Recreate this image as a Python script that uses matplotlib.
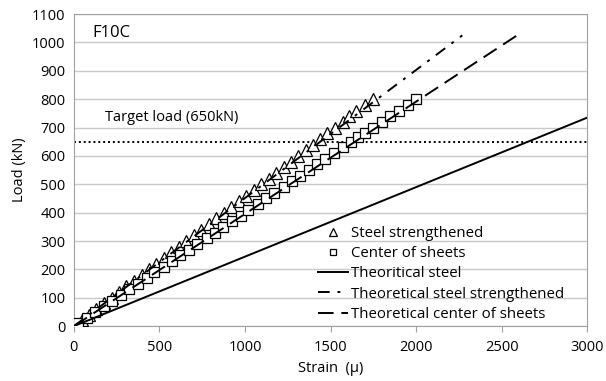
import matplotlib
matplotlib.use("Agg")
import matplotlib.pyplot as plt

# Measured data: steel strengthened (triangles)
tri_strain = [0, 45, 90, 130, 175, 220, 265, 305, 350, 395, 440, 480, 525, 570, 615, 655,
              700, 745, 790, 830, 875, 920, 965, 1005, 1050, 1095, 1140, 1180, 1225, 1270,
              1310, 1355, 1400, 1440, 1480, 1525, 1570, 1610, 1650, 1700, 1750]
tri_load = [0, 20, 40, 60, 80, 100, 120, 140, 160, 180, 200, 220, 240, 260, 280, 300,
            320, 340, 360, 380, 400, 420, 440, 460, 480, 500, 520, 540, 560, 580,
            600, 620, 640, 660, 680, 700, 720, 740, 760, 780, 800]

# Measured data: center of sheets (squares)
sq_strain = [25, 75, 125, 175, 225, 275, 320, 375, 425, 470, 525, 575, 620, 675, 720, 775,
             825, 870, 925, 975, 1020, 1075, 1125, 1170, 1225, 1275, 1320, 1375, 1420, 1470,
             1520, 1570, 1620, 1660, 1700, 1750, 1800, 1850, 1900, 1950, 2000]
sq_load = [10, 30, 50, 70, 90, 110, 130, 150, 170, 190, 210, 230, 250, 270, 290, 310,
           330, 350, 370, 390, 410, 430, 450, 470, 490, 510, 530, 550, 570, 590,
           610, 630, 650, 665, 680, 700, 720, 740, 760, 780, 800]

# Theoretical lines (end points)
th_steel_x = [0, 3000]
th_steel_y = [0, 735]
th_str_x = [0, 2270]
th_str_y = [0, 1025]
th_center_x = [0, 2590]
th_center_y = [0, 1025]

target_load = 650

plt.rcParams['font.family'] = ['Open Sans', 'DejaVu Sans']

fig = plt.figure(figsize=(6.06, 3.81), dpi=100)
ax = fig.add_axes([0.122, 0.144, 0.847, 0.819])

ax.set_xlim(0, 3000)
ax.set_ylim(0, 1100)
ax.set_xticks(range(0, 3001, 500))
ax.set_yticks(range(0, 1101, 100))
ax.yaxis.grid(True, color='#c8c8c8', linewidth=1.0)
ax.set_axisbelow(True)

ax.plot(tri_strain, tri_load, linestyle='none', marker='^', markersize=8,
        markerfacecolor='white', markeredgecolor='black', markeredgewidth=0.9,
        label='Steel strengthened', zorder=3)
ax.plot(sq_strain, sq_load, linestyle='none', marker='s', markersize=7,
        markerfacecolor='white', markeredgecolor='black', markeredgewidth=0.9,
        label='Center of sheets', zorder=3)
ax.plot(th_steel_x, th_steel_y, color='black', linewidth=1.4, label='Theoritical steel', zorder=4)
ax.plot(th_str_x, th_str_y, color='black', linewidth=1.4, dashes=(6, 4, 1.5, 4),
        label='Theoretical steel strengthened', zorder=4)
ax.plot(th_center_x, th_center_y, color='black', linewidth=1.4, dashes=(8, 4),
        label='Theoretical center of sheets', zorder=4)

ax.axhline(target_load, color='black', linewidth=1.4, linestyle=(0, (1, 1.5)), zorder=2)
ax.text(180, 737, 'Target load (650kN)', fontsize=10.5, ha='left', va='center')
ax.text(110, 1035, 'F10C', fontsize=12, ha='left', va='center')

for s in ['left', 'bottom']:
    ax.spines[s].set_color('#a0a0a0')
for s in ['top', 'right']:
    ax.spines[s].set_color('#a0a0a0')
    ax.spines[s].set_linestyle((0, (1, 1)))

ax.tick_params(axis='y', length=0, labelsize=10.5, pad=6)
ax.tick_params(axis='x', length=4, color='#a0a0a0', labelsize=10.5, pad=6, direction='out')

ax.set_xlabel('Strain  (\u03bc)', fontsize=10.5, labelpad=4)
ax.set_ylabel('Load (kN)', fontsize=10.5, labelpad=4)

leg = ax.legend(loc='lower right', bbox_to_anchor=(0.975, -0.02), frameon=False,
                fontsize=10.8, handlelength=2.0, handletextpad=0.2, labelspacing=0.35,
                borderpad=0.2, markerscale=0.7)

fig.savefig('out.png', dpi=100)
